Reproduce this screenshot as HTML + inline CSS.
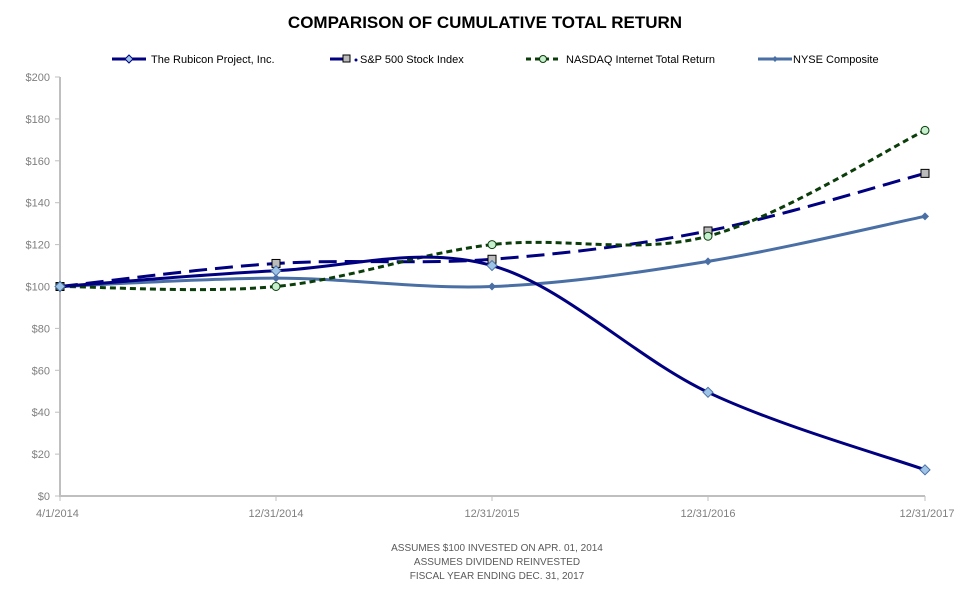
<!DOCTYPE html><html><head><meta charset="utf-8"><style>
body{margin:0;background:#fff;width:964px;height:586px;overflow:hidden;font-family:"Liberation Sans",sans-serif}
</style></head><body>
<svg id="s" width="964" height="586" xmlns="http://www.w3.org/2000/svg" font-family="Liberation Sans, sans-serif">
<text x="485" y="28" text-anchor="middle" font-size="17" font-weight="bold" fill="#000">COMPARISON OF CUMULATIVE TOTAL RETURN</text>
<g font-size="11" fill="#000">
<line x1="112" y1="59" x2="146" y2="59" stroke="#000080" stroke-width="3"/><path d="M129 55 L133 59 L129 63 L125 59Z" fill="#9dc3e6" stroke="#000080"/>
<text x="151" y="63">The Rubicon Project, Inc.</text>
<line x1="330" y1="59" x2="343" y2="59" stroke="#000080" stroke-width="3"/><rect x="343" y="55" width="7" height="7" fill="#bbb" stroke="#000"/><circle cx="356" cy="60" r="1.5" fill="#000080"/>
<text x="360" y="63">S&amp;P 500 Stock Index</text>
<line x1="526" y1="59" x2="560" y2="59" stroke="#0b3d0b" stroke-width="3" stroke-dasharray="5,4"/><circle cx="543" cy="59" r="3.5" fill="#c6efce" stroke="#0b3d0b"/>
<text x="566" y="63">NASDAQ Internet Total Return</text>
<line x1="758" y1="59" x2="792" y2="59" stroke="#4a6fa5" stroke-width="3"/><path d="M775 56 L778 59 L775 62 L772 59Z" fill="#4a6fa5"/>
<text x="793" y="63">NYSE Composite</text>
</g>
<g id="ax" font-size="11" fill="#7f7f7f"></g>
<g id="lines"></g>
<g font-size="10" fill="#595959" text-anchor="middle">
<text x="497" y="551">ASSUMES $100 INVESTED ON APR. 01, 2014</text>
<text x="497" y="565">ASSUMES DIVIDEND REINVESTED</text>
<text x="497" y="579">FISCAL YEAR ENDING DEC. 31, 2017</text>
</g>
</svg>
<script>
var NS="http://www.w3.org/2000/svg",ax=document.getElementById('ax'),L=document.getElementById('lines');
function el(p,t,a,txt){var e=document.createElementNS(NS,t);for(var k in a)e.setAttribute(k,a[k]);if(txt)e.textContent=txt;p.appendChild(e);return e;}
var X=[60,276,492,708,925];function Y(v){return 496-v*2.095;}
el(ax,'line',{x1:60,y1:77,x2:60,y2:497,stroke:'#bfbfbf','stroke-width':2});
el(ax,'line',{x1:59,y1:496,x2:925,y2:496,stroke:'#bfbfbf','stroke-width':2});
for(var v=0;v<=200;v+=20){el(ax,'line',{x1:55,y1:Y(v),x2:60,y2:Y(v),stroke:'#bfbfbf'});el(ax,'text',{x:50,y:Y(v)+4,'text-anchor':'end'},'$'+v);}
var lab=['4/1/2014','12/31/2014','12/31/2015','12/31/2016','12/31/2017'];
X.forEach(function(x,i){el(ax,'line',{x1:x,y1:496,x2:x,y2:501,stroke:'#bfbfbf'});el(ax,'text',{x:i==0?36:i==4?927:x,y:517,'text-anchor':i==0?'start':i==4?'middle':'middle'},lab[i]);});
function path(vals){var p=vals.map(function(v,i){return [X[i],Y(v)];});var d='M'+p[0];for(var i=0;i<p.length-1;i++){var a=p[i-1]||p[i],b=p[i],c=p[i+1],e=p[i+2]||c;var t=6;d+=' C'+(b[0]+(c[0]-a[0])/t)+','+(b[1]+(c[1]-a[1])/t)+' '+(c[0]-(e[0]-b[0])/t)+','+(c[1]-(e[1]-b[1])/t)+' '+c[0]+','+c[1];}return [d,p];}
var S=[
{v:[100,104,100,112,133.5],c:'#4a6fa5',w:3,m:'d2',f:'#4a6fa5'},
{v:[100,111,113,126.5,154],c:'#000080',w:3,da:'18,8',m:'sq',f:'#bbb'},
{v:[100,100,120,124,174.5],c:'#0b3d0b',w:3,da:'6,4',m:'c',f:'#c6efce'},
{v:[100,107.5,110,49.5,12.5],c:'#000080',w:3,m:'d',f:'#9dc3e6'}];
S.forEach(function(s){var r=path(s.v);var a={d:r[0],fill:'none',stroke:s.c,'stroke-width':s.w};if(s.da)a['stroke-dasharray']=s.da;el(L,'path',a);
r[1].forEach(function(q){var x=q[0],y=q[1];
if(s.m=='sq')el(L,'rect',{x:x-4,y:y-4,width:8,height:8,fill:s.f,stroke:'#000'});
else if(s.m=='c')el(L,'circle',{cx:x,cy:y,r:4,fill:s.f,stroke:'#0b3d0b'});
else if(s.m=='d')el(L,'path',{d:'M'+x+' '+(y-5)+'L'+(x+5)+' '+y+'L'+x+' '+(y+5)+'L'+(x-5)+' '+y+'Z',fill:s.f,stroke:'#4a6fa5'});
else el(L,'path',{d:'M'+x+' '+(y-4)+'L'+(x+4)+' '+y+'L'+x+' '+(y+4)+'L'+(x-4)+' '+y+'Z',fill:s.f});});});
</script>
</body></html>
